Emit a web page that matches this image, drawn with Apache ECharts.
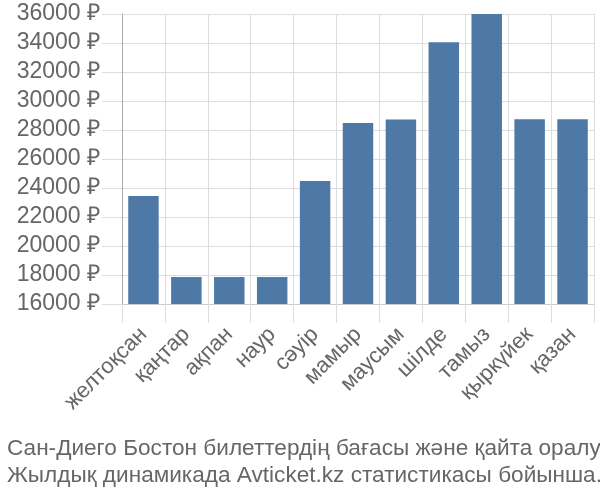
<!DOCTYPE html>
<html>
<head>
<meta charset="utf-8">
<script src="https://cdn.jsdelivr.net/npm/echarts@6/dist/echarts.min.js"></script>
<style>html,body{margin:0;padding:0;background:#fff}#c{width:600px;height:500px}</style>
</head>
<body>
<div id="c"></div>
<script>
var categories = ['желтоқсан','қаңтар','ақпан','наур','сәуір','мамыр','маусым','шілде','тамыз','қыркүйек','қазан'];
var prices = [23450, 17860, 17860, 17860, 24480, 28480, 28720, 34050, 36000, 28750, 28750];
var titleLines = ['Сан-Диего Бостон билеттердің бағасы және қайта оралу', 'Жылдық динамикада Avticket.kz статистикасы бойынша.'];
var yMin = 16000, yMax = 36000, yStep = 2000;

var chart = echarts.init(document.getElementById('c'), null, {renderer:'canvas'});
chart.setOption({
  animation: false,
  title: {
    text: titleLines.join('\n'),
    left: 2, bottom: 6,
    textStyle: {fontFamily: 'Liberation Sans', fontWeight: 'normal', fontSize: 22.6, color: '#666', lineHeight: 27}
  },
  grid: {left: 122, right: 6, top: 14, bottom: 196, containLabel: false},
  xAxis: {
    type: 'category', data: categories,
    axisLine: {show: true, lineStyle: {color: '#ccc', width: 1}},
    axisTick: {show: true, alignWithLabel: false, length: 19, lineStyle: {color: '#ddd'}},
    splitLine: {show: true, lineStyle: {color: '#ddd'}},
    axisLabel: {rotate: 45, fontSize: 22, color: '#666', fontFamily: 'Liberation Sans', margin: 27, interval: 0}
  },
  yAxis: {
    type: 'value', min: yMin, max: yMax, interval: yStep,
    axisLine: {show: true, lineStyle: {color: '#aaa'}},
    axisTick: {show: true, length: 20, lineStyle: {color: '#ddd'}},
    splitLine: {show: true, lineStyle: {color: '#ddd'}},
    axisLabel: {formatter: function (v) { return v + ' ₽'; }, fontSize: 23, color: '#666', fontFamily: 'Liberation Sans', margin: 22}
  },
  series: [{
    type: 'bar', data: prices, barCategoryGap: '29%',
    itemStyle: {color: '#4e79a6'}
  }]
});
</script>
</body>
</html>
